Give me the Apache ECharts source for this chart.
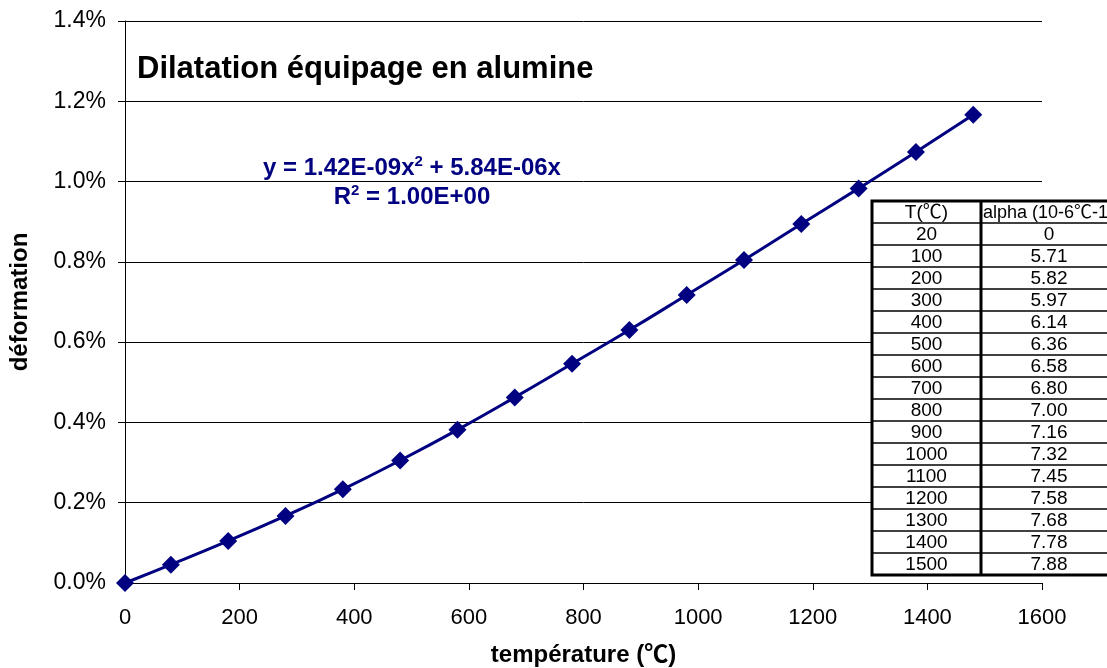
<!DOCTYPE html>
<html>
<head>
<meta charset="utf-8">
<script src="https://cdn.jsdelivr.net/npm/echarts@6/dist/echarts.min.js"></script>
<style>
  html, body { margin: 0; padding: 0; background: #fff; }
  #chart { width: 1107px; height: 668px; }
</style>
</head>
<body>
<div id="chart"></div>
<script>
// temperature above 20°C, and measured deformation (fraction)
var tempC = [0, 80, 180, 280, 380, 480, 580, 680, 780, 880, 980, 1080, 1180, 1280, 1380, 1480];
var deformation = [0, 0.000457, 0.001048, 0.001672, 0.002333, 0.003053, 0.003816, 0.004624,
  0.00546, 0.006301, 0.007174, 0.008046, 0.008944, 0.00983, 0.010736, 0.011662];

// table on the right
var tableHead = ['T(℃)', 'alpha (10-6℃-1)'];
var tableT = ['20', '100', '200', '300', '400', '500', '600', '700', '800', '900',
  '1000', '1100', '1200', '1300', '1400', '1500'];
var tableAlpha = ['0', '5.71', '5.82', '5.97', '6.14', '6.36', '6.58', '6.80', '7.00', '7.16',
  '7.32', '7.45', '7.58', '7.68', '7.78', '7.88'];

var FONT = '"Liberation Sans", Arial, "Noto Sans CJK SC", sans-serif';
var NAVY = '#000080';

var seriesData = tempC.map(function (t, i) { return [t, deformation[i]]; });

/***
 * tableau T / alpha
 */
function buildTable() {
  var left = 872, top = 201, colX = 981, right = 1120, rowH = 22;
  var bottom = top + rowH * (tableT.length + 1);
  var els = [];
  els.push({
    type: 'rect', shape: { x: left, y: top, width: right - left, height: bottom - top },
    style: { fill: '#fff', stroke: '#000', lineWidth: 3 }, z: 10
  });
  for (var i = 1; i <= tableT.length; i++) {
    var y = top + rowH * i;
    els.push({
      type: 'line', shape: { x1: left, y1: y, x2: right, y2: y },
      style: { stroke: '#000', lineWidth: 1.5 }, z: 11
    });
  }
  els.push({
    type: 'line', shape: { x1: colX, y1: top, x2: colX, y2: bottom },
    style: { stroke: '#000', lineWidth: 3 }, z: 11
  });
  var rows = [tableHead].concat(tableT.map(function (t, i) { return [t, tableAlpha[i]]; }));
  rows.forEach(function (r, i) {
    var cy = top + rowH * i + rowH / 2 + 1;
    els.push({
      type: 'text', x: (left + colX) / 2, y: cy, z: 12,
      style: { text: r[0], font: '19px ' + FONT, fill: '#000', align: 'center', verticalAlign: 'middle' }
    });
    els.push({
      type: 'text', x: i === 0 ? colX + 2 : 1049, y: cy, z: 12,
      style: { text: r[1], font: (i === 0 ? '18px ' : '19px ') + FONT, fill: '#000', align: i === 0 ? 'left' : 'center', verticalAlign: 'middle' }
    });
  });
  return els;
}

var richEq = {
  a: { fontWeight: 'bold', fontSize: 24, fontFamily: FONT, fill: NAVY },
  s: { fontWeight: 'bold', fontSize: 15, fontFamily: FONT, fill: NAVY, verticalAlign: 'top', padding: [0, 0, 12, 0] }
};

var chart = echarts.init(document.getElementById('chart'));
var option = {
  backgroundColor: '#fff',
  animation: false,
  grid: { left: 125, right: 65, top: 21, bottom: 85, outerBoundsMode: 'none', containLabel: false },
  xAxis: {
    type: 'value',
    min: 0, max: 1600, interval: 200,
    name: 'température (℃)',
    nameLocation: 'middle',
    nameGap: 60,
    nameTextStyle: { fontFamily: FONT, fontWeight: 'bold', fontSize: 24, color: '#000' },
    axisLine: { lineStyle: { color: '#000', width: 1 } },
    axisTick: { show: true, length: 7, lineStyle: { color: '#000' } },
    axisLabel: {
      fontFamily: FONT, fontSize: 22, color: '#000', margin: 24,
      formatter: function (v) { return String(v); }
    },
    splitLine: { show: false }
  },
  yAxis: {
    type: 'value',
    min: 0, max: 0.014, interval: 0.002,
    name: 'déformation',
    nameLocation: 'middle',
    nameGap: 93,
    nameTextStyle: { fontFamily: FONT, fontWeight: 'bold', fontSize: 24, color: '#000' },
    axisLine: { show: true, lineStyle: { color: '#000', width: 1 } },
    axisTick: { show: true, length: 7, lineStyle: { color: '#000' } },
    axisLabel: {
      fontFamily: FONT, fontSize: 23, color: '#000', margin: 19,
      formatter: function (v) { return (v * 100).toFixed(1) + '%'; }
    },
    splitLine: { show: true, lineStyle: { color: '#000', width: 1 } }
  },
  series: [
    {
      name: 'dilatation',
      type: 'line',
      data: seriesData,
      smooth: true,
      symbol: 'diamond',
      symbolSize: 18,
      itemStyle: { color: NAVY },
      lineStyle: { color: NAVY, width: 3 },
      z: 5
    }
  ],
  graphic: [
    {
      type: 'text', left: 137, top: 54,
      style: { text: 'Dilatation équipage en alumine', font: 'bold 31px ' + FONT, fill: '#000' }
    },
    {
      type: 'text', x: 412, y: 168,
      style: { text: '{a|y = 1.42E-09x}{s|2}{a| + 5.84E-06x}', align: 'center', verticalAlign: 'middle', rich: richEq }
    },
    {
      type: 'text', x: 412, y: 197,
      style: { text: '{a|R}{s|2}{a| = 1.00E+00}', align: 'center', verticalAlign: 'middle', rich: richEq }
    },
    { type: 'group', children: buildTable() }
  ]
};
chart.setOption(option);
</script>
</body>
</html>
